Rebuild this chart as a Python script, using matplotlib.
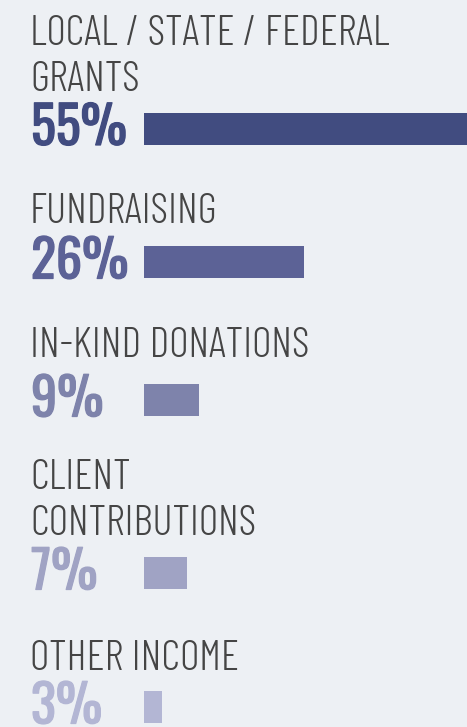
import matplotlib
matplotlib.use('Agg')
import matplotlib.pyplot as plt
import matplotlib.patheffects as pe

# datos
categorias = [['LOCAL / STATE / FEDERAL', 'GRANTS'],
              ['FUNDRAISING'],
              ['IN-KIND DONATIONS'],
              ['CLIENT', 'CONTRIBUTIONS'],
              ['OTHER INCOME']]
porcentajes = [55, 26, 9, 7, 3]
colores = ['#414c80', '#5c6296', '#7e83ab', '#a0a3c4', '#b3b6d4']

# layout en pixeles (figura 467x727)
W, H = 467, 727
centros = [128.5, 262, 400, 573, 707]     # centro vertical de cada barra
base_label = [90.7, 223.3, 356.7, 535, 670]  # baseline de la ultima linea
interlinea = 46
x_bar = 143.5
px_por_pct = 6.154
fondo = '#edf0f4'

fig = plt.figure(figsize=(W / 100, H / 100), dpi=100)
fig.patch.set_facecolor(fondo)

# eje para textos, en pixeles
ax_txt = fig.add_axes([0, 0, 1, 1])
ax_txt.set_xlim(0, W)
ax_txt.set_ylim(H, 0)
ax_txt.axis('off')

# eje para barras, x en porcentaje
ax = fig.add_axes([x_bar / W, 0, (W - x_bar) / W, 1])
ax.set_xlim(0, (W - x_bar) / px_por_pct)
ax.set_ylim(H, 0)
ax.axis('off')
ax.patch.set_alpha(0)

ax.barh(centros, porcentajes, height=32, left=0, color=colores)

for lineas, pct, col, yc, yb in zip(categorias, porcentajes, colores, centros, base_label):
    n = len(lineas)
    for k, linea in enumerate(lineas):
        ax_txt.text(30, yb - (n - 1 - k) * interlinea, linea, family='Barlow Condensed',
                    weight=300, fontsize=30.5, color='#454545', va='baseline')
    t = ax_txt.text(31, yc + 16.5, f'{pct}%', family='Oswald', fontsize=37.5,
                    color=col, va='baseline')
    t.set_path_effects([pe.withStroke(linewidth=0.9, foreground=col)])

fig.savefig('out.png', facecolor=fondo)
